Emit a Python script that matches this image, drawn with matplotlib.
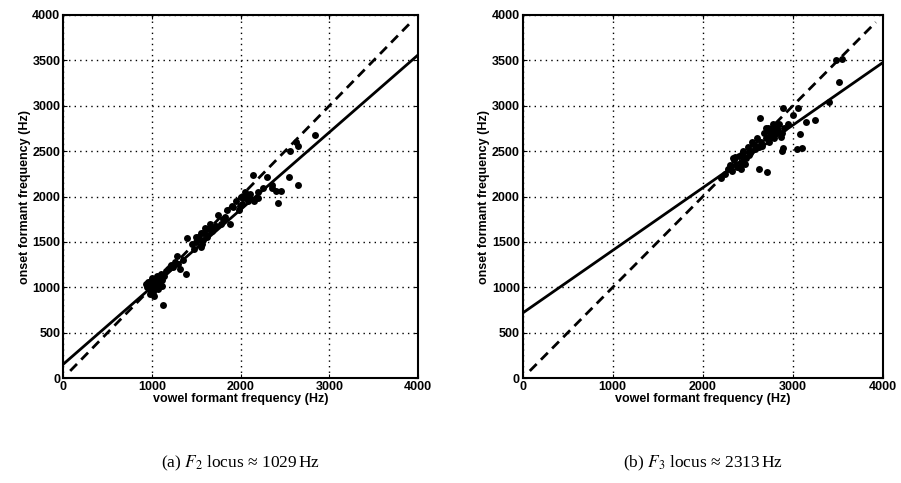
import matplotlib.pyplot as plt
import numpy as np

plt.rcParams['mathtext.fontset'] = 'stix'

# F2 panel: (vowel formant, onset formant) in Hz
f2_vowel = [950, 970, 990, 1000, 1010, 1020, 1040, 980, 1050, 1060, 1080, 1000, 960, 1030, 1070,
            1100, 1120, 1140, 990, 1010, 1130, 1180, 1220, 1240, 1280, 1320, 1350, 1380, 1400, 1300,
            1480, 1500, 1520, 1550, 1580, 1600, 1620, 1650, 1700, 1550, 1530, 1580, 1680, 1720,
            1750, 1800, 1850, 1880, 1900, 1950, 1980, 2000, 2020, 2050, 2080, 2100, 2150, 2200,
            2250, 2140, 2300, 2350, 2400, 2200, 2420, 2550, 2650, 2460, 2350, 2560, 2630, 2840,
            2650, 1780, 1830, 1920, 2060, 1450, 1620, 1160, 940, 1060, 1090, 1110, 1500, 1560,
            1640, 1990, 2030, 2110, 1260, 1200]
f2_onset = [1000, 1050, 980, 1020, 950, 1080, 1000, 930, 1050, 1120, 1100, 1100, 1060, 900, 980,
            1150, 1080, 1130, 1070, 1010, 807, 1200, 1250, 1220, 1350, 1200, 1300, 1150, 1540, 1260,
            1420, 1500, 1550, 1600, 1520, 1650, 1580, 1700, 1650, 1450, 1530, 1600, 1620, 1680,
            1800, 1750, 1850, 1700, 1900, 1950, 1850, 2000, 1920, 2050, 1950, 2000, 1950, 2050,
            2100, 2240, 2220, 2130, 2060, 1980, 1930, 2220, 2130, 2060, 2100, 2500, 2600, 2680,
            2560, 1700, 1780, 1880, 2000, 1480, 1560, 1180, 1040, 1030, 1060, 1020, 1560, 1480,
            1640, 1900, 1980, 2030, 1280, 1230]

# F3 panel
f3_vowel = [2200, 2250, 2280, 2300, 2320, 2350, 2380, 2400, 2420, 2450, 2480, 2500, 2520, 2550,
            2580, 2600, 2620, 2650, 2680, 2700, 2720, 2750, 2780, 2800, 2820, 2850, 2880, 2900,
            2950, 2630, 2710, 2620, 2890, 3060, 3100, 3050, 3250, 3080, 3400, 3510, 3540, 3480,
            2890, 2880, 2300, 2420, 2460, 2540, 2660, 2740, 2760, 2840, 2360, 2440, 2560, 2700,
            2790, 2870, 3000, 3150, 2400, 2430, 2470, 2330, 2510, 2590, 2730, 2810, 2770]
f3_onset = [2200, 2250, 2300, 2350, 2280, 2400, 2330, 2450, 2380, 2500, 2420, 2550, 2480, 2600,
            2520, 2650, 2550, 2600, 2700, 2650, 2750, 2700, 2800, 2720, 2750, 2800, 2700, 2750,
            2800, 2870, 2270, 2300, 2980, 2980, 2540, 2520, 2840, 2690, 3040, 3260, 3510, 3500,
            2530, 2500, 2310, 2300, 2420, 2500, 2560, 2600, 2680, 2720, 2440, 2360, 2580, 2760,
            2640, 2660, 2900, 2820, 2330, 2470, 2360, 2420, 2460, 2560, 2660, 2700, 2750]

# regression lines (slope, intercept) and locus values
fits = [(0.852, 152), (0.69, 717)]
loci = [1029, 2313]
formants = ['2', '3']
letters = ['a', 'b']

fig = plt.figure(figsize=(9.01, 4.83), dpi=100)
axes = [fig.add_axes([0.070, 0.217, 0.394, 0.752]),
        fig.add_axes([0.580, 0.217, 0.400, 0.752])]
data = [(f2_vowel, f2_onset), (f3_vowel, f3_onset)]

for i, ax in enumerate(axes):
    vx, vy = data[i]
    ax.plot(vx, vy, 'o', color='k', markersize=5, markeredgewidth=0)
    k, c = fits[i]
    xx = np.array([0, 4000])
    ax.plot(xx, k * xx + c, color='k', lw=2.0)
    ax.plot([80, 3920], [80, 3920], color='k', lw=2.0, ls=(0, (3.5, 2.2)))
    ax.set_xlim(0, 4000)
    ax.set_ylim(0, 4000)
    ax.set_xticks([0, 1000, 2000, 3000, 4000])
    ax.set_yticks([0, 500, 1000, 1500, 2000, 2500, 3000, 3500, 4000])
    ax.grid(True, color='k', ls=(0, (1, 3)), lw=1.0)
    ax.tick_params(direction='in', top=True, right=True, length=3, pad=2, labelsize=9)
    for lab in ax.get_xticklabels() + ax.get_yticklabels():
        lab.set_fontweight('bold')
        lab.set_family('Liberation Sans')
    for sp in ax.spines.values():
        sp.set_linewidth(1.5)
    ax.set_xlabel('vowel formant frequency (Hz)', fontsize=9, fontweight='bold',
                  family='Liberation Sans', labelpad=0)
    ax.set_ylabel('onset formant frequency (Hz)', fontsize=9, fontweight='bold',
                  family='Liberation Sans', labelpad=1)
    ax.text(0.5, -0.235, '(%s) $F_%s$ locus \u2248 %d$\\,$Hz' % (letters[i], formants[i], loci[i]),
            transform=ax.transAxes, ha='center', va='center', fontsize=12.5,
            family='Liberation Serif')

fig.savefig('out.png', dpi=100)
